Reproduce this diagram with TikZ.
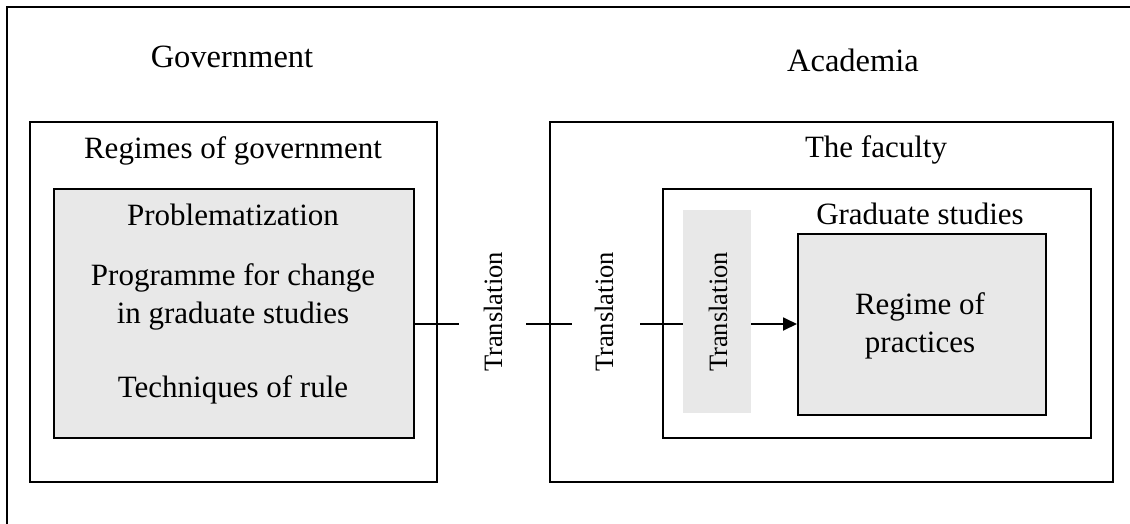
\documentclass[tikz,border=0pt]{standalone}
\usepackage{fontspec}
\setmainfont{Liberation Serif}
\usetikzlibrary{arrows.meta}
\definecolor{boxgray}{HTML}{E8E8E8}
\begin{document}
\begin{tikzpicture}[x=1pt,y=-1pt,
  frame/.style={draw=black, line width=1.8pt, fill=white, inner sep=0pt, anchor=north west},
  greybox/.style={frame, fill=boxgray},
  txt/.style={font=\fontsize{31}{38}\selectfont, inner sep=0pt, anchor=base, align=center},
  trl/.style={font=\fontsize{26.5}{30}\selectfont, inner sep=0pt, anchor=base, rotate=90},
  conn/.style={line width=1.8pt}]
\useasboundingbox (0,0) rectangle (1130,523);
\fill[white] (0,0) rectangle (1130,523);
% outer frame
\coordinate (fbl) at (7,530);
\coordinate (ftl) at (7,7);
\coordinate (ftr) at (1135,7);
\draw[conn] (fbl) -- (ftl) -- (ftr);
% headings
\node[txt, font=\fontsize{32.5}{38}\selectfont] (govt) at (232,67) {Government};
\node[txt, font=\fontsize{32.5}{38}\selectfont] (acad) at (853,71) {Academia};
% left side
\node[frame, minimum width=407pt, minimum height=360pt] (regbox) at (29,121) {};
\node[txt] (regt) at (233,158) {Regimes of government};
\node[greybox, minimum width=360pt, minimum height=249pt] (ggrey) at (53,188) {};
\node[txt] (prob) at (233,225) {Problematization};
\node[txt] (prog) at (233,323) {Programme for change\\in graduate studies};
\node[txt] (tech) at (233,397) {Techniques of rule};
% right side
\node[frame, minimum width=563pt, minimum height=360pt] (facbox) at (549,121) {};
\node[txt] (fact) at (876,157) {The faculty};
\node[frame, minimum width=428pt, minimum height=249pt] (gradbox) at (662,188) {};
\node[txt] (gradt) at (920,224) {Graduate studies};
\node[fill=boxgray, inner sep=0pt, anchor=north west, minimum width=68pt, minimum height=203pt] (trrect) at (683,210) {};
\node[greybox, minimum width=248pt, minimum height=181pt] (reg) at (797,233) {};
\node[txt] (regp) at (920,352) {Regime of\\practices};
% translation labels
\node[trl] (t1) at (502,312) {Translation};
\node[trl] (t2) at (613,312) {Translation};
\node[trl] (t3) at (727,312) {Translation};
% connectors
\coordinate (ly) at (0,324);
\coordinate (s1e) at (459,324);
\coordinate (s2s) at (526,324);
\coordinate (s2e) at (572,324);
\coordinate (s3s) at (640,324);
\draw[conn] (ggrey.east |- ly) -- (s1e);
\draw[conn] (s2s) -- (s2e);
\draw[conn] (s3s) -- (trrect.west |- ly);
\draw[conn, -{Triangle[length=14pt,width=13pt]}] (trrect.east |- ly) -- (reg.west |- ly);
\end{tikzpicture}
\end{document}
